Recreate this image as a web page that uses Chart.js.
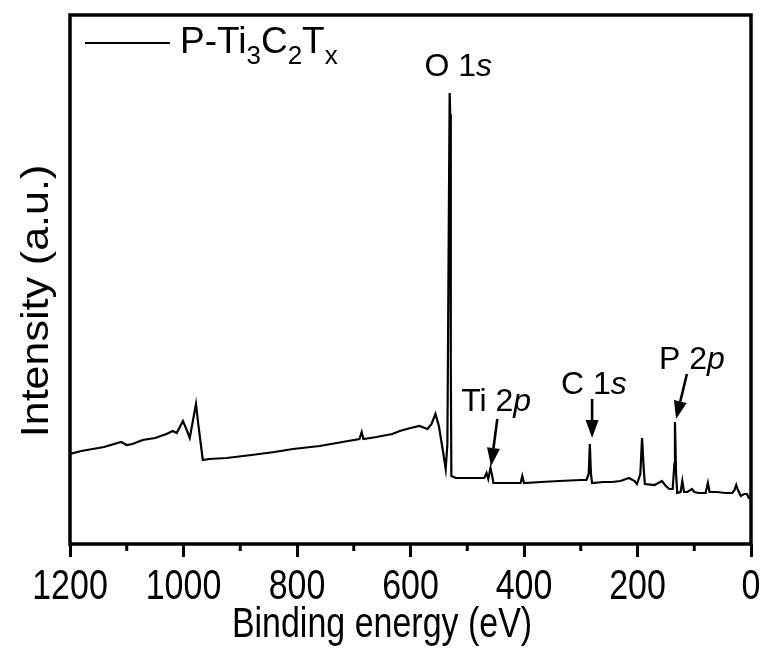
<!DOCTYPE html>
<html>
<head>
<meta charset="utf-8">
<script src="https://cdn.jsdelivr.net/npm/chart.js@4.4.1/dist/chart.umd.min.js"></script>
<style>
  html, body { margin: 0; padding: 0; background: #fff; }
  #wrap { width: 767px; height: 655px; }
</style>
</head>
<body>
<div id="wrap"><canvas id="c"></canvas></div>
<script>
// XPS survey of P-Ti3C2Tx (intensity in a.u.)
const bindingEnergy = [
  1200, 1180, 1160, 1140, 1110, 1100, 1090, 1072, 1050, 1030, 1019, 1012, 1001, 995, 989, 978, 974, 966,
  955, 924, 880, 840, 807, 760, 720, 690, 686, 683, 660, 632, 619, 600, 584, 575, 570, 563, 556, 550,
  542, 538, 535, 533, 531, 530, 529, 528, 520, 500, 470, 466, 463, 459, 456, 454, 430, 406, 403, 400,
  370, 338, 300, 290, 286, 284, 282, 280, 260, 245, 230, 215, 205, 201, 195, 192, 189, 187, 170, 160,
  157, 150, 144, 138, 135, 134, 132, 130, 124, 121, 118, 112, 104, 100, 92, 80, 76, 73, 60, 45, 33,
  29, 26, 23, 18, 12, 7, 4, 0
];
const intensity = [
  90, 93, 95, 97, 102, 99, 100, 104, 106, 110, 113, 111, 123, 115, 106, 140, 120, 84,
  85, 86, 89, 92, 95, 98, 102, 105, 112, 105, 107, 110, 113, 116, 118, 116, 115, 120, 130, 118,
  90, 75, 100, 280, 451, 430, 180, 68, 66, 66, 66, 71, 65, 76, 68, 61, 61, 61, 68, 61,
  62, 63, 64, 64, 70, 100, 70, 61, 62, 62, 63, 66, 63, 60, 70, 106, 75, 60, 59, 62,
  63, 58, 55, 55, 80, 122, 70, 51, 52, 63, 52, 52, 55, 52, 51, 51, 61, 52, 52, 51, 51,
  54, 59, 54, 48, 50, 50, 46, 46
];
const xTicks = [1200, 1000, 800, 600, 400, 200, 0];
const minorTicks = [1100, 900, 700, 500, 300, 100];

// peak labels: [energy, intensity] of the text centre/baseline and arrow tail -> tip
const peakLabels = [
  { parts: [['O 1', false], ['s', true]], at: [516, 468] },
  { parts: [['Ti 2', false], ['p', true]], at: [449, 133], arrow: [[447, 125], [458, 78]] },
  { parts: [['C 1', false], ['s', true]], at: [277, 150], arrow: [[280, 145], [280, 106]] },
  { parts: [['P 2', false], ['p', true]], at: [104, 175], arrow: [[113, 170], [132, 125]] }
];

const FONT = '"Liberation Sans", Arial, sans-serif';
const AXIS_SIZE = 43;   // axis texts look narrow: full size, squeezed sideways
const SQUEEZE = 0.79;

function drawRich(ctx, parts, cx, y, size) {
  let w = 0;
  parts.forEach(([t, it]) => {
    ctx.font = (it ? 'italic ' : '') + size + 'px ' + FONT;
    w += ctx.measureText(t).width;
  });
  let x = cx - w / 2;
  ctx.textAlign = 'left';
  ctx.textBaseline = 'alphabetic';
  parts.forEach(([t, it]) => {
    ctx.font = (it ? 'italic ' : '') + size + 'px ' + FONT;
    ctx.fillText(t, x, y);
    x += ctx.measureText(t).width;
  });
}

function drawNarrow(ctx, text, x, y, rotate) {
  ctx.save();
  ctx.translate(x, y);
  if (rotate) {
    ctx.rotate(-Math.PI / 2);
    ctx.scale(1, 0.9);
  } else {
    ctx.scale(SQUEEZE, 1);
  }
  ctx.font = AXIS_SIZE + 'px ' + FONT;
  ctx.textAlign = 'center';
  ctx.textBaseline = 'alphabetic';
  ctx.fillText(text, 0, 0);
  ctx.restore();
}

function drawArrow(ctx, x1, y1, x2, y2) {
  const ang = Math.atan2(y2 - y1, x2 - x1);
  const hl = 18, hw = 6.5;
  const bx = x2 - hl * Math.cos(ang), by = y2 - hl * Math.sin(ang);
  ctx.lineWidth = 2.6;
  ctx.beginPath();
  ctx.moveTo(x1, y1);
  ctx.lineTo(bx, by);
  ctx.stroke();
  ctx.beginPath();
  ctx.moveTo(x2, y2);
  ctx.lineTo(bx + hw * Math.sin(ang), by - hw * Math.cos(ang));
  ctx.lineTo(bx - hw * Math.sin(ang), by + hw * Math.cos(ang));
  ctx.closePath();
  ctx.fill();
}

const decorations = {
  id: 'decorations',
  afterDraw(chart) {
    const { ctx, chartArea: a, scales: { x, y } } = chart;
    ctx.save();
    ctx.strokeStyle = '#000';
    ctx.fillStyle = '#000';

    // minor ticks
    ctx.lineWidth = 3;
    minorTicks.forEach(v => {
      const px = x.getPixelForValue(v);
      ctx.beginPath();
      ctx.moveTo(px, a.bottom);
      ctx.lineTo(px, a.bottom + 7);
      ctx.stroke();
    });

    // frame
    ctx.lineWidth = 3.5;
    ctx.strokeRect(a.left, a.top, a.right - a.left, a.bottom - a.top);

    // tick labels and axis titles
    x.ticks.forEach(t => drawNarrow(ctx, String(t.value), x.getPixelForValue(t.value), a.bottom + 55));
    drawNarrow(ctx, 'Binding energy (eV)', 382, 637);
    drawNarrow(ctx, 'Intensity (a.u.)', 48, 301, true);

    // peak labels and arrows
    peakLabels.forEach(p => {
      drawRich(ctx, p.parts, x.getPixelForValue(p.at[0]), y.getPixelForValue(p.at[1]), 32);
      if (p.arrow) {
        const [t, h] = p.arrow;
        drawArrow(ctx, x.getPixelForValue(t[0]), y.getPixelForValue(t[1]),
                       x.getPixelForValue(h[0]), y.getPixelForValue(h[1]));
      }
    });

    // legend with subscripts
    const ly = a.top + 28;
    ctx.lineWidth = 2.2;
    ctx.beginPath();
    ctx.moveTo(a.left + 15, ly);
    ctx.lineTo(a.left + 100, ly);
    ctx.stroke();
    let lx = a.left + 110;
    const base = ly + 10;
    [['P-Ti', 0], ['3', 1], ['C', 0], ['2', 1], ['T', 0], ['x', 1]].forEach(([t, sub]) => {
      ctx.font = (sub ? 26 : 37) + 'px ' + FONT;
      ctx.textAlign = 'left';
      ctx.textBaseline = 'alphabetic';
      ctx.fillText(t, lx, sub ? base + 11 : base);
      lx += ctx.measureText(t).width;
    });
    ctx.restore();
  }
};

new Chart(document.getElementById('c'), {
  type: 'line',
  data: {
    datasets: [{
      label: 'P-Ti3C2Tx',
      data: bindingEnergy.map((e, i) => ({ x: e, y: intensity[i] })),
      borderColor: '#000',
      borderWidth: 2.2,
      pointRadius: 0,
      tension: 0,
      fill: false
    }]
  },
  options: {
    responsive: true,
    maintainAspectRatio: false,
    animation: false,
    layout: { padding: { top: 15, right: 16, left: 0, bottom: 0 } },
    plugins: { legend: { display: false }, tooltip: { enabled: false } },
    scales: {
      x: {
        type: 'linear',
        reverse: true,
        min: 0,
        max: 1200,
        afterFit: s => { s.height = 111; },
        afterBuildTicks: s => { s.ticks = xTicks.map(v => ({ value: v })); },
        ticks: { display: false },
        grid: {
          display: true,
          drawOnChartArea: false,
          drawTicks: true,
          tickLength: 13,
          tickWidth: 3,
          tickColor: '#000'
        },
        border: { display: false },
        title: { display: false }
      },
      y: {
        min: 0,
        max: 529,
        afterFit: s => { s.width = 70; },
        ticks: { display: false },
        grid: { display: false },
        border: { display: false },
        title: { display: false }
      }
    }
  },
  plugins: [decorations]
});
</script>
</body>
</html>
